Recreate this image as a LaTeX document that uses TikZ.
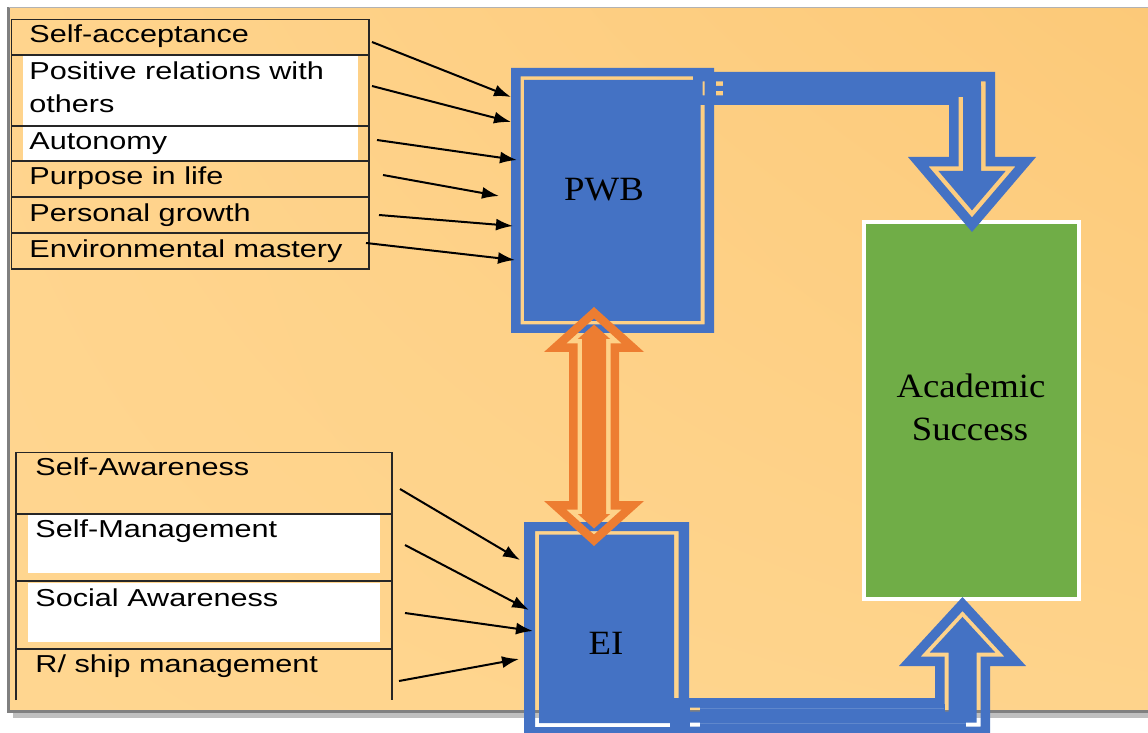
\documentclass[tikz,border=0pt]{standalone}
\usepackage{fontspec}
\setmainfont{Liberation Serif}
\newfontfamily\arialx[FakeStretch=1.25]{Liberation Sans}
\newfontfamily\timesx[FakeStretch=1.08]{Liberation Serif}
\usetikzlibrary{arrows.meta,shadings}
\definecolor{bgUL}{HTML}{FFD48D}
\definecolor{bgUR}{HTML}{FCC978}
\definecolor{bgLL}{HTML}{FFD690}
\definecolor{bgLR}{HTML}{FED38B}
\definecolor{blu}{HTML}{4472C4}
\definecolor{org}{HTML}{ED7D31}
\definecolor{grn}{HTML}{70AD47}
\begin{document}
\begin{tikzpicture}[x=0.5pt,y=-0.5pt,
  listtxt/.style={font=\arialx\fontsize{12.25pt}{15pt}\selectfont, inner sep=0pt, anchor=base west},
  boxtxt/.style={font=\timesx\fontsize{17pt}{20pt}\selectfont, inner sep=0pt, anchor=base},
  listline/.style={draw=black!85, line width=0.75pt},
  conn/.style={draw=black, line width=1pt, -{Latex[length=8.5pt,width=6pt]}},
  seam/.style={draw=white, opacity=0.15, line width=0.4pt}]
\useasboundingbox (0,0) rectangle (1148,733);
\fill[white] (0,0) rectangle (1148,733);
\clip (0,0) rectangle (1148,733);

% frame
\fill[black!25] (13,712) rectangle (1170,718);
\shade[upper left=bgUL, upper right=bgUR, lower left=bgLL, lower right=bgLR] (8.5,7.5) rectangle (1170,711.5);
\draw[black!50, line width=1.5pt] (1170,711.5) -- (8.5,711.5) -- (8.5,7.5);
\draw[black!30, line width=0.8pt] (8.5,7.5) -- (1170,7.5);

% top list
\fill[white] (23,56) rectangle (358,160);
\draw[listline] (11.5,19.5) rectangle (369,269);
\foreach \yy in {55,126,161,197,233} \draw[listline] (11.5,\yy) -- (369,\yy);
\node[listtxt] (t1) at (29,43) {Self-acceptance};
\node[listtxt] (t2) at (29,80) {Positive relations with};
\node[listtxt] (t2b) at (29,113) {others};
\node[listtxt] (t3) at (29,150) {Autonomy};
\node[listtxt] (t4) at (29,185) {Purpose in life};
\node[listtxt] (t5) at (29,222) {Personal growth};
\node[listtxt] (t6) at (29,258) {Environmental mastery};

% bottom list
\fill[white] (28,515) rectangle (380,573);
\fill[white] (28,583) rectangle (380,642);
\draw[listline] (16,700) -- (16,452.5) -- (392,452.5) -- (392,700);
\foreach \yy in {514,581,649} \draw[listline] (16,\yy) -- (392,\yy);
\node[listtxt] (b1) at (35,475) {Self-Awareness};
\node[listtxt] (b2) at (35,537) {Self-Management};
\node[listtxt] (b3) at (35,606) {Social Awareness};
\node[listtxt] (b4) at (35,672) {R/ ship management};

% PWB box (double border, transparent gap)
\fill[blu, even odd rule] (511,68) rectangle (714,333)
  (520.5,76.5) rectangle (704.5,324.5) (524,80) rectangle (700.5,321);
% EI box
\fill[blu, even odd rule] (524,522) rectangle (689,745)
  (535,531) rectangle (678.5,727) (539,534.5) rectangle (674,723);
% Academic Success box
\draw[draw=white, fill=grn, line width=2pt] (864,222.5) rectangle (1079,598.5);

% top bent arrow PWB -> Academic Success
\fill[blu, even odd rule]
  (693,72) -- (995,72) -- (995,157) -- (1036,157) -- (972,232) -- (908,157) -- (949,157) -- (949,105) -- (693,105) -- cycle
  (702.5,81.5) -- (985.5,81.5) -- (985.5,166.5) -- (1015.4,166.5) -- (972,217.4) -- (928.6,166.5) -- (958.5,166.5) -- (958.5,95.5) -- (702.5,95.5) -- cycle
  (707,86) -- (981,86) -- (981,171) -- (1005.6,171) -- (972,210.4) -- (938.4,171) -- (963,171) -- (963,91) -- (707,91) -- cycle;
\fill[blu] (723,78) rectangle (981,89);
\fill[blu] (723,89) rectangle (963,97);
\fill[blu] (707,80) rectangle (716,97);

% bottom bent arrow EI -> Academic Success
\fill[blu, even odd rule]
  (670,698) -- (935,698) -- (935,666) -- (899,666) -- (962.5,597) -- (1026,666) -- (990,666) -- (990,736) -- (670,736) -- cycle
  (679.5,707.5) -- (944.5,707.5) -- (944.5,656.5) -- (920.65,656.5) -- (962.5,611.03) -- (1004.35,656.5) -- (980.5,656.5) -- (980.5,726.5) -- (679.5,726.5) -- cycle
  (683.5,711.5) -- (948.5,711.5) -- (948.5,652.5) -- (929.77,652.5) -- (962.5,616.94) -- (995.23,652.5) -- (976.5,652.5) -- (976.5,722.5) -- (683.5,722.5) -- cycle;
\fill[blu] (675,704) rectangle (690,730);
\fill[blu] (700,704) rectangle (944.5,713);
\fill[blu] (700,720) rectangle (966,729);
\draw[seam] (700,708) -- (944,708);
\draw[seam] (700,723.5) -- (966,723.5);

% labels of the big boxes
\node[boxtxt] (pwb) at (604,201) {PWB};
\node[boxtxt] (ei) at (606,654) {EI};
\node[boxtxt] (as1) at (971,398) {Academic};
\node[boxtxt] (as2) at (970,440) {Success};

% orange double arrow PWB <-> EI
\fill[org, even odd rule]
  (594,307) -- (644,352) -- (619,352) -- (619,501) -- (644,501) -- (594,546) -- (544,501) -- (569,501) -- (569,352) -- (544,352) -- cycle
  (594,318.4) -- (621.85,343.5) -- (610.5,343.5) -- (610.5,509.5) -- (621.85,509.5) -- (594,534.6) -- (566.15,509.5) -- (577.5,509.5) -- (577.5,343.5) -- (566.15,343.5) -- cycle
  (594,324.5) -- (610.12,339) -- (606,339) -- (606,514) -- (610.12,514) -- (594,528.5) -- (577.88,514) -- (582,514) -- (582,339) -- (577.88,339) -- cycle;

% connectors from the lists
\coordinate (s1) at (372,42);  \coordinate (e1) at (511,97);
\coordinate (s2) at (372,86);  \coordinate (e2) at (511,122);
\coordinate (s3) at (377,140); \coordinate (e3) at (517,160);
\coordinate (s4) at (383,175); \coordinate (e4) at (499,196);
\coordinate (s5) at (379,215); \coordinate (e5) at (513,226);
\coordinate (s6) at (366,243); \coordinate (e6) at (515,260);
\foreach \i in {1,...,6} \draw[conn] (s\i) -- (e\i);
\coordinate (u1) at (400,489); \coordinate (v1) at (520,560);
\coordinate (u2) at (405,545); \coordinate (v2) at (529,610);
\coordinate (u3) at (405,613); \coordinate (v3) at (533,631);
\coordinate (u4) at (399,681); \coordinate (v4) at (519,659);
\foreach \i in {1,...,4} \draw[conn] (u\i) -- (v\i);
\end{tikzpicture}
\end{document}
